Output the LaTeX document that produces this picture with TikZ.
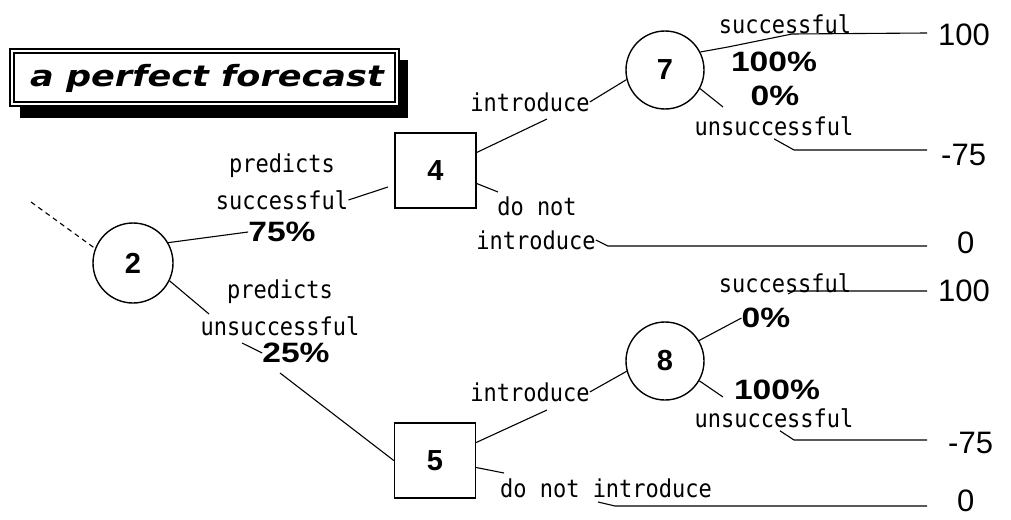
\documentclass[tikz,border=0pt]{standalone}
\usepackage{fontspec}
\newfontfamily\labfont{DejaVu Sans Mono}
\newfontfamily\numfont{Liberation Sans}
\newfontfamily\ttlfont{DejaVu Sans}
\begin{document}
\begin{tikzpicture}[x=1pt,y=-1pt,
  conn/.style={line width=1.1pt},
  chance/.style={circle,draw,line width=1.4pt,minimum size=80pt,inner sep=0pt,
    font=\numfont\bfseries\fontsize{29}{29}\selectfont},
  decision/.style={rectangle,draw,line width=1.4pt,minimum width=81pt,minimum height=75pt,inner sep=0pt,
    font=\numfont\bfseries\fontsize{29}{29}\selectfont},
  lab/.style={inner sep=0pt,yscale=1.12,font=\labfont\fontsize{22}{22}\selectfont},
  pct/.style={inner sep=0pt,xscale=1.2,font=\numfont\bfseries\fontsize{28}{28}\selectfont},
  pay/.style={inner sep=0pt,anchor=west,font=\numfont\fontsize{31}{31}\selectfont},
]
\useasboundingbox (0,0) rectangle (1011,519);

% title box
\fill[black] (20,60) rectangle (408,118);
\draw[fill=white,line width=1.2pt] (10,49) rectangle (399,106);
\draw[line width=1.2pt] (14,53) rectangle (395,102);
\node[inner sep=0pt,xscale=1.3,yscale=1.08,font=\ttlfont\bfseries\itshape\fontsize{27}{27}\selectfont] (title) at (207,78) {a perfect forecast};

% decision / chance nodes
\node[chance] (c2) at (133,263) {2};
\node[decision] (d4) at (435.5,170.5) {4};
\node[decision] (d5) at (435,460.5) {5};
\node[chance,minimum size=78pt] (c7) at (665,70) {7};
\node[chance,minimum size=78pt] (c8) at (665,361) {8};

% incoming dashed branch
\coordinate (in2) at (31,202);
\draw[conn,dash pattern=on 5pt off 4pt] (in2) -- (c2.159);

% ---- node 2, upper branch
\node[lab] (ps1) at (282,166) {predicts};
\node[lab] (ps2) at (282,200) {successful};
\node[pct] (p75) at (282,232) {75\%};
\draw[conn] (c2.30) -- (p75.west);
\coordinate (e4) at (388,187);
\draw[conn] (ps2.east) -- (e4);

% ---- node 2, lower branch
\node[lab] (pu1) at (280,292) {predicts};
\node[lab] (pu2) at (280,326) {unsuccessful};
\node[pct] (p25) at (296,353) {25\%};
\coordinate (u1) at (209,314);
\draw[conn] (c2.-26) -- (u1);
\coordinate (u2) at (242,343);
\draw[conn] (u2) -- (p25.west);
\coordinate (u3) at (280,373);
\draw[conn] (u3) -- (d5.west);

% ---- node 4
\node[lab] (i4) at (530,102) {introduce};
\coordinate (a4) at (547,119);
\draw[conn] ([yshift=18pt]d4.east) -- (a4);
\draw[conn] (i4.east) -- (c7.194);
\node[lab] (dn4) at (537,206) {do not};
\node[lab] (dn4b) at (536,240) {introduce};
\coordinate (b4) at (498,192);
\draw[conn] ([yshift=-13pt]d4.east) -- (b4);
\coordinate (z1) at (927,246);
\draw[conn] (dn4b.east) -- ++(12,6) -- (z1);
\node[pay] (v0a) at (957,243) {0};

% ---- node 7
\node[lab] (s7) at (785,24) {successful};
\node[pct] (p100a) at (774,62) {100\%};
\node[pct] (p0a) at (775,96) {0\%};
\node[lab] (us7) at (774,126) {unsuccessful};
\coordinate (h1) at (927,33);
\draw[conn] (c7.27) -- (728,47) -- (792,34) -- (h1);
\coordinate (t7) at (723,107);
\draw[conn] (c7.-28) -- (t7);
\coordinate (h2) at (927,150);
\draw[conn] (us7.south) ++(0,3) -- (794,150) -- (h2);
\node[pay] (v100a) at (938,35) {100};
\node[pay] (v75a) at (941,155) {-75};

% ---- node 5
\node[lab] (i5) at (530,392) {introduce};
\coordinate (a5) at (547,410);
\draw[conn] ([yshift=18pt]d5.east) -- (a5);
\draw[conn] (i5.east) -- (c8.195);
\node[lab] (dn5) at (606,488) {do not introduce};
\coordinate (b5) at (504,473);
\draw[conn] ([yshift=-7pt]d5.east) -- (b5);
\coordinate (z2) at (927,506);
\draw[conn] (598,502) -- (615,506) -- (z2);
\node[pay] (v0b) at (957,501) {0};

% ---- node 8
\node[lab] (s8) at (785,283) {successful};
\node[pct] (p0b) at (766,318) {0\%};
\node[pct] (p100b) at (777,390) {100\%};
\node[lab] (us8) at (774,418) {unsuccessful};
\draw[conn] (c8.31) -- (p0b.west);
\coordinate (h3) at (927,291);
\draw[conn] (788,294) -- (794,291) -- (h3);
\coordinate (t8) at (723,397);
\draw[conn] (c8.-30) -- (t8);
\coordinate (h4) at (927,440);
\draw[conn] (us8.south) ++(6,3) -- (794,440) -- (h4);
\node[pay] (v100b) at (938,291) {100};
\node[pay] (v75b) at (948,443) {-75};
\end{tikzpicture}
\end{document}
